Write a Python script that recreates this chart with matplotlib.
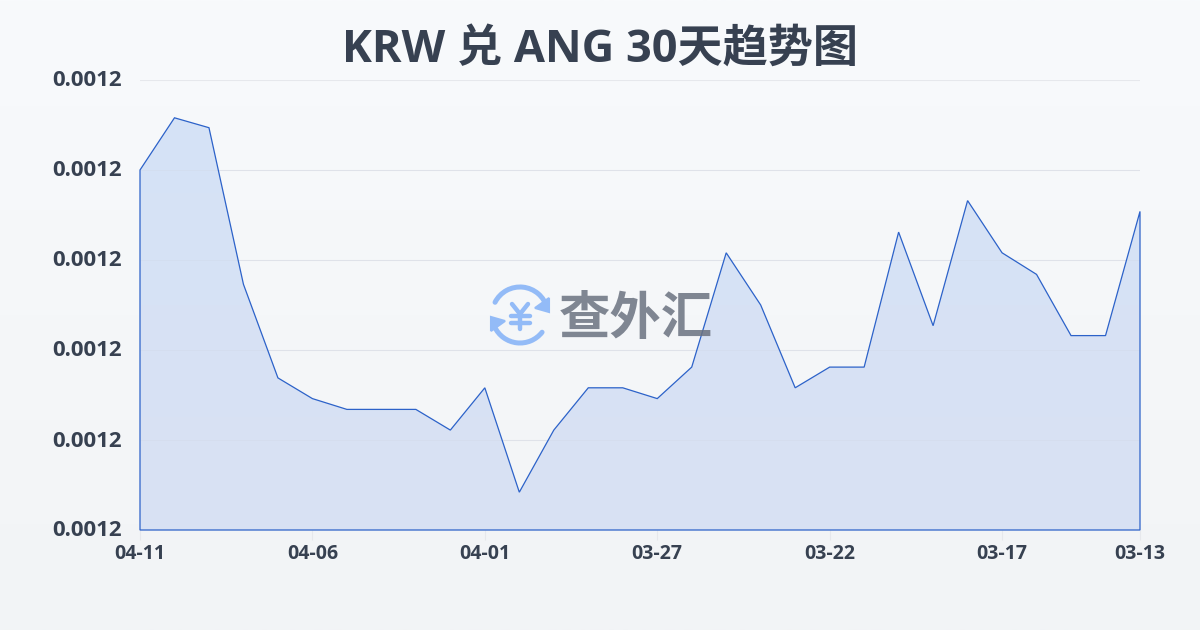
import numpy as np
import matplotlib
matplotlib.use('Agg')
import matplotlib.pyplot as plt
from matplotlib.patches import Arc, Polygon
from matplotlib.ticker import FormatStrFormatter
from matplotlib.transforms import ScaledTranslation

plt.rcParams['font.family'] = ['Open Sans', 'Noto Sans CJK SC', 'DejaVu Sans']

dates = ['04-11', '04-10', '04-09', '04-08', '04-07', '04-06', '04-05', '04-04', '04-03', '04-02',
         '04-01', '03-31', '03-30', '03-29', '03-28', '03-27', '03-26', '03-25', '03-24', '03-23',
         '03-22', '03-21', '03-20', '03-19', '03-18', '03-17', '03-16', '03-15', '03-14', '03-13']
rates = [0.0012300, 0.0012358, 0.0012347, 0.0012173, 0.0012069, 0.0012046, 0.0012034, 0.0012034,
         0.0012034, 0.0012011, 0.0012058, 0.0011942, 0.0012011, 0.0012058, 0.0012058, 0.0012046,
         0.0012081, 0.0012208, 0.0012150, 0.0012058, 0.0012081, 0.0012081, 0.0012231, 0.0012127,
         0.0012266, 0.0012208, 0.0012184, 0.0012116, 0.0012116, 0.0012254]
date_ticks = [0, 5, 10, 15, 20, 25, 29]
rate_ticks = [0.00119, 0.00120, 0.00121, 0.00122, 0.00123, 0.00124]

W, H = 1200, 630
fig = plt.figure(figsize=(12, 6.3), dpi=100)

# page background, light vertical gradient
bg = fig.add_axes([0, 0, 1, 1], zorder=0)
bg.imshow(np.linspace(0, 1, 256).reshape(-1, 1), aspect='auto', extent=[0, W, H, 0],
          cmap=matplotlib.colors.LinearSegmentedColormap.from_list('bg', ['#f8fafc', '#f2f4f6']))
bg.set_xlim(0, W)
bg.set_ylim(H, 0)
bg.axis('off')

ax = fig.add_axes([140 / W, 1 - 530 / H, 1000 / W, 450 / H], zorder=1)
ax.patch.set_alpha(0)
x = np.arange(len(rates))

ax.yaxis.grid(True, color='#e6e8ec', linewidth=0.8)
ax.set_axisbelow(True)

# gradient under the line, clipped to the area shape
ybottom = rate_ticks[0]
verts = [(x[0], ybottom)] + list(zip(x, rates)) + [(x[-1], ybottom)]
clip = Polygon(verts, closed=True, transform=ax.transData, facecolor='none', edgecolor='none')
ax.add_patch(clip)
grad = matplotlib.colors.LinearSegmentedColormap.from_list('fill', ['#d5e3f7', '#d9e1f3'])
im = ax.imshow(np.linspace(0, 1, 256).reshape(-1, 1), aspect='auto', cmap=grad, zorder=1.5,
               extent=[0, len(rates) - 1, rate_ticks[0], rate_ticks[-1]])
im.set_clip_path(clip)
ax.set_xlim(0, len(rates) - 1)
ax.set_ylim(rate_ticks[0], rate_ticks[-1])

# gridlines show faintly through the fill
for t in rate_ticks[1:-1]:
    ax.axhline(t, color='#cfd6e4', linewidth=0.6, alpha=0.35, zorder=1.6)

outline = Polygon(verts, closed=True, transform=ax.transData, facecolor='none',
                  edgecolor='#2c62c9', linewidth=0.9, zorder=3, clip_on=False)
ax.add_patch(outline)

for s in ax.spines.values():
    s.set_visible(False)

ax.set_xticks(date_ticks)
ax.set_xticklabels([dates[i] for i in date_ticks])
ax.set_yticks(rate_ticks)
ax.yaxis.set_major_formatter(FormatStrFormatter('%.4f'))
ax.tick_params(axis='x', length=7, width=0.8, color='#e6e8ec', pad=3, labelsize=14,
               labelcolor='#374151')
ax.tick_params(axis='y', length=0, pad=13, labelsize=16, labelcolor='#374151')
for lab in ax.get_xticklabels() + ax.get_yticklabels():
    lab.set_fontweight('bold')
# y labels sit a little above their gridlines
up = ScaledTranslation(0, 1.5 / 100, fig.dpi_scale_trans)
for lab in ax.get_yticklabels():
    lab.set_transform(lab.get_transform() + up)

fig.text(0.5, 1 - 50 / H, 'KRW 兑 ANG 30天趋势图', ha='center', va='center', fontsize=32.5,
         fontweight='bold', color='#374151')

# watermark logo on top, in pixel coordinates
wm = fig.add_axes([0, 0, 1, 1], zorder=2)
blue = '#93bbf7'
cx, cy = 520, 315
wm.add_patch(Arc((cx, cy), 56, 56, theta1=207, theta2=345, color=blue, lw=3.6, capstyle='round'))
wm.add_patch(Arc((cx, cy), 56, 56, theta1=38, theta2=155, color=blue, lw=3.6, capstyle='round'))
wm.add_patch(Polygon([(549, 298), (549, 312), (535, 308)], closed=True, fc=blue, ec=blue, lw=1.5))
wm.add_patch(Polygon([(491, 317), (491, 331), (505, 321)], closed=True, fc=blue, ec=blue, lw=1.5))
# yen sign of the logo
wm.plot([512, 520, 528], [304, 314, 304], color=blue, lw=3.2, solid_capstyle='round')
wm.plot([511, 530], [316, 316], color=blue, lw=3.2, solid_capstyle='round')
wm.plot([511, 530], [323, 323], color=blue, lw=3.2, solid_capstyle='round')
wm.plot([520, 520], [314, 329], color=blue, lw=3.2, solid_capstyle='round')
wm.set_xlim(0, W)
wm.set_ylim(H, 0)
wm.axis('off')
wm.text(636, 321, '查外汇', ha='center', va='center', fontsize=37, fontweight='bold',
        color='#6b7280', alpha=0.85)

fig.savefig('out.png', dpi=100)
